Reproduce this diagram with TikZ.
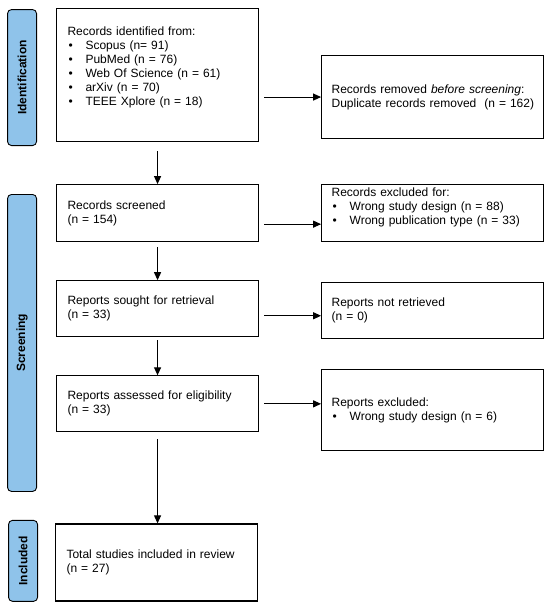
\documentclass[tikz,border=0pt]{standalone}
\usepackage{fontspec}
\setmainfont{Liberation Sans}
\usetikzlibrary{arrows.meta, positioning}
\definecolor{stageblue}{RGB}{143,195,234}
\newcommand{\itm}{\makebox[18pt][l]{\hspace{1pt}\textbullet}}
\newcommand{\padbottom}[1]{\rule[-#1]{0pt}{#1}}
\tikzset{
    box/.style={draw=black, line width=1.1pt, fill=white, align=left, text width=180pt, inner xsep=11pt, font=\fontsize{12}{14}\selectfont},
    sidebox/.style={box, text width=202pt, inner xsep=10pt},
    stage/.style={draw=black, line width=0.9pt, fill=stageblue, rounded corners=4pt, minimum width=29pt, inner sep=0pt, font=\fontsize{12}{14}\selectfont\bfseries},
    arrow/.style={-{Triangle[length=8pt, width=7pt]}, line width=1.1pt, shorten <=5pt}
}

\begin{document}
\begin{tikzpicture}
    \useasboundingbox (0,0) rectangle (550pt,-606pt);
    % main column
    \node [box, minimum height=133pt, anchor=north west] (ident) at (56pt,-8pt) {Records identified from:\\
        \itm Scopus (n= 91)\\
        \itm PubMed (n = 76)\\
        \itm Web Of Science (n = 61)\\
        \itm arXiv (n = 70)\\
        \itm TEEE Xplore (n = 18)\padbottom{18pt}};
    \node [box, minimum height=57pt, below=42pt of ident] (screened) {Records screened\\(n = 154)};
    \node [box, minimum height=56pt, below=38pt of screened] (sought) {Reports sought for retrieval\\(n = 33)};
    \node [box, minimum height=56pt, below=38pt of sought] (assessed) {Reports assessed for eligibility\\(n = 33)};
    \node [box, minimum height=77pt, below=91pt of assessed, xshift=-1pt] (total) {Total studies included in review\\(n = 27)};
    % right column
    \node [sidebox, minimum height=83pt, right=62pt of ident, yshift=-22pt] (removed) {Records removed \textit{before screening}:\\\mbox{Duplicate records removed\ \ (n = 162)}};
    \node [sidebox, minimum height=57pt, right=62pt of screened] (excluded) {Records excluded for:\\
        \itm Wrong study design (n = 88)\\
        \itm Wrong publication type (n = 33)\padbottom{14pt}};
    \node [sidebox, minimum height=56pt, right=62pt of sought, yshift=-2pt] (notretr) {Reports not retrieved\\(n = 0)};
    \node [sidebox, minimum height=81pt, right=62pt of assessed, yshift=-6.5pt] (repexcl) {Reports excluded:\\
        \itm Wrong study design (n = 6)};
    % stage bars
    \node [stage, minimum height=136pt, left=19pt of ident, yshift=-2.5pt] (idbar) {\rotatebox{90}{Identification}};
    \node [stage, minimum height=297pt, below=48pt of idbar] (scrbar) {\rotatebox{90}{Screening}};
    \node [stage, minimum height=81pt, below=28pt of scrbar, xshift=1pt] (incbar) {\rotatebox{90}{Included}};
    % arrows
    \draw [arrow, shorten <=9pt] (ident) -- (screened);
    \draw [arrow] (screened) -- (sought);
    \draw [arrow, shorten <=3pt] (sought) -- (assessed);
    \draw [arrow, shorten <=7pt] (assessed.south) -- (assessed.south |- total.north);
    \draw [arrow] (ident.east |- removed.west) -- (removed.west);
    \draw [arrow] ([yshift=-11pt]screened.east) -- ([yshift=-11pt]excluded.west);
    \draw [arrow] ([yshift=-7pt]sought.east) -- ([yshift=-5pt]notretr.west);
    \draw [arrow] (assessed.east) -- (assessed.east -| repexcl.west);
\end{tikzpicture}
\end{document}
